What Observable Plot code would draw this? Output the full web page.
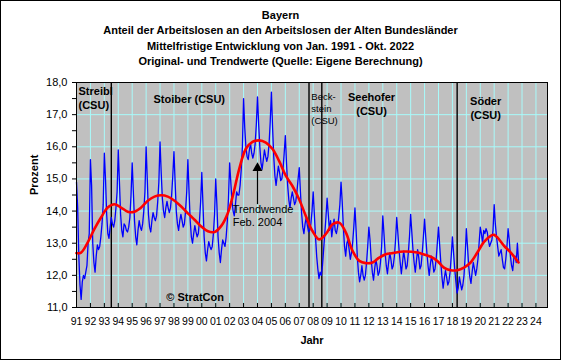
<!DOCTYPE html>
<html><head><meta charset="utf-8">
<script src="https://cdn.jsdelivr.net/npm/d3@7"></script>
<script src="https://cdn.jsdelivr.net/npm/@observablehq/plot@0.6"></script>
<style>
body{margin:0;background:#fff;}
#wrap{position:relative;width:561px;height:360px;overflow:hidden;background:#fff;font-family:Arial,"Liberation Sans",sans-serif;}
#title{height:70px;box-sizing:border-box;padding-top:8px;text-align:center;font-weight:bold;font-size:11px;line-height:15.3px;color:#000;}
#border{position:absolute;left:0;top:0;width:561px;height:360px;box-sizing:border-box;border:1px solid #000;pointer-events:none;}
#chart svg{display:block;}
</style></head>
<body>
<div id="wrap"><div id="title"></div><div id="chart"></div><div id="border"></div></div>
<script>
const titleLines = [
  "Bayern",
  "Anteil der Arbeitslosen an den Arbeitslosen der Alten Bundesländer",
  "Mittelfristige Entwicklung von Jan. 1991 - Okt. 2022",
  "Original- und Trendwerte (Quelle: Eigene Berechnung)"
];

// Monthly original values (Jan..Dec)
const v1991 = [14.9, 14.1, 12.6, 11.7, 11.25, 11.8, 12.0, 11.9, 12.1, 12.3, 13.0, 13.3];
const v1992 = [15.6, 14.8, 13.0, 12.4, 12.1, 12.6, 12.95, 12.8, 12.9, 13.2, 13.6, 14.2];
const v1993 = [15.8, 15.0, 13.9, 13.3, 13.15, 13.5, 13.8, 13.6, 13.5, 13.7, 14.1, 14.6];
const v1994 = [15.9, 14.9, 13.9, 13.4, 13.2, 13.6, 13.55, 13.4, 13.35, 13.5, 13.8, 14.5];
const v1995 = [15.5, 14.6, 13.7, 13.2, 12.95, 13.4, 13.7, 13.5, 13.4, 13.6, 14.0, 14.6];
const v1996 = [16.0, 15.0, 13.9, 13.5, 13.35, 13.7, 13.95, 13.8, 13.7, 13.85, 14.3, 14.9];
const v1997 = [16.15, 15.2, 14.4, 14.0, 13.8, 14.1, 14.3, 14.1, 13.95, 14.1, 14.5, 15.1];
const v1998 = [15.85, 14.9, 14.0, 13.6, 13.4, 13.7, 13.9, 13.7, 13.5, 13.6, 14.0, 14.6];
const v1999 = [15.6, 14.6, 13.7, 13.2, 13.0, 13.3, 13.55, 13.35, 13.2, 13.3, 13.7, 14.3];
const v2000 = [15.2, 14.2, 13.2, 12.7, 12.45, 12.8, 13.05, 12.9, 12.8, 12.9, 13.3, 13.9];
const v2001 = [15.0, 14.2, 13.2, 12.7, 12.4, 12.8, 13.1, 13.0, 12.9, 13.2, 13.7, 14.4];
const v2002 = [15.5, 14.9, 14.3, 14.0, 13.85, 14.2, 14.6, 14.5, 14.5, 14.8, 15.3, 16.0];
const v2003 = [17.5, 16.6, 16.0, 15.7, 15.6, 15.9, 16.1, 15.8, 15.65, 15.8, 16.1, 16.7];
const v2004 = [17.55, 16.7, 16.0, 15.5, 15.3, 15.6, 15.9, 15.7, 15.55, 15.7, 16.1, 16.8];
const v2005 = [17.7, 16.6, 15.7, 15.1, 14.8, 15.1, 15.4, 15.2, 14.95, 15.0, 15.3, 15.8];
const v2006 = [16.35, 15.5, 14.8, 14.35, 14.1, 14.4, 14.6, 14.4, 14.2, 14.3, 14.6, 15.0];
const v2007 = [15.35, 14.6, 13.95, 13.5, 13.3, 13.6, 13.8, 13.55, 13.35, 13.4, 13.6, 14.0];
const v2008 = [14.6, 13.9, 13.2, 12.6, 12.2, 11.9, 12.1, 12.0, 12.3, 12.8, 13.3, 13.8];
const v2009 = [14.4, 13.9, 13.4, 13.7, 13.2, 13.5, 13.75, 13.4, 13.3, 13.5, 13.8, 14.2];
const v2010 = [14.9, 14.3, 13.5, 12.9, 12.6, 13.0, 13.1, 12.8, 12.5, 12.7, 13.0, 13.5];
const v2011 = [14.1, 13.4, 12.6, 12.1, 11.8, 12.0, 12.3, 12.0, 11.85, 12.0, 12.4, 12.9];
const v2012 = [13.5, 13.1, 12.5, 12.1, 11.85, 12.2, 12.5, 12.3, 12.0, 12.1, 12.4, 12.9];
const v2013 = [13.85, 13.3, 12.7, 12.3, 12.05, 12.4, 12.7, 12.5, 12.2, 12.3, 12.6, 13.1];
const v2014 = [13.8, 13.3, 12.8, 12.4, 12.05, 12.4, 12.75, 12.5, 12.2, 12.3, 12.7, 13.2];
const v2015 = [13.9, 13.35, 12.8, 12.4, 12.1, 12.45, 12.8, 12.55, 12.2, 12.3, 12.7, 13.2];
const v2016 = [13.75, 13.2, 12.7, 12.3, 12.0, 12.35, 12.6, 12.4, 12.1, 12.2, 12.5, 13.0];
const v2017 = [13.5, 12.95, 12.4, 11.95, 11.6, 11.9, 12.15, 11.95, 11.7, 11.8, 12.1, 12.6];
const v2018 = [13.2, 12.7, 12.2, 11.8, 11.45, 11.6, 11.95, 11.75, 11.55, 11.7, 12.0, 12.6];
const v2019 = [13.45, 12.9, 12.3, 11.95, 11.75, 12.1, 12.4, 12.2, 12.0, 12.2, 12.5, 13.0];
const v2020 = [13.5, 13.3, 13.0, 13.4, 13.3, 13.45, 13.35, 13.1, 12.9, 13.0, 13.1, 13.4];
const v2021 = [14.2, 13.6, 13.2, 12.9, 12.6, 12.7, 12.8, 12.5, 12.25, 12.2, 12.5, 12.9];
const v2022 = [13.45, 13.1, 12.6, 12.3, 12.15, 12.55, 12.6, 12.4, 13.0, 12.45];

const seriesYears = [1991,1992,1993,1994,1995,1996,1997,1998,1999,2000,2001,2002,2003,2004,2005,2006,
  2007,2008,2009,2010,2011,2012,2013,2014,2015,2016,2017,2018,2019,2020,2021,2022];
const seriesValues = [v1991,v1992,v1993,v1994,v1995,v1996,v1997,v1998,v1999,v2000,v2001,v2002,v2003,v2004,
  v2005,v2006,v2007,v2008,v2009,v2010,v2011,v2012,v2013,v2014,v2015,v2016,v2017,v2018,v2019,v2020,v2021,v2022];

// Trend values (decimal year, value)
const trendTimes = [1991.0, 1991.33, 1991.8, 1992.28, 1992.76, 1993.24, 1993.72, 1994.2, 1994.68, 1995.16,
  1995.64, 1996.12, 1996.6, 1997.08, 1997.56, 1998.04, 1998.52, 1999.0, 1999.48, 1999.96, 2000.44, 2000.92,
  2001.4, 2001.88, 2002.3, 2002.68, 2003.16, 2003.64, 2004.12, 2004.6, 2005.08, 2005.55, 2006.03, 2006.51,
  2006.99, 2007.47, 2007.95, 2008.43, 2008.9, 2009.39, 2009.87, 2010.35, 2010.83, 2011.31, 2011.79, 2012.26,
  2012.74, 2013.22, 2013.65, 2014.52, 2015.48, 2015.96, 2016.44, 2016.92, 2017.39, 2017.87, 2018.35, 2018.83,
  2019.31, 2019.79, 2020.27, 2020.75, 2020.99, 2021.23, 2021.71, 2022.19, 2022.75];
const trendValues = [12.69, 12.71, 13.02, 13.44, 13.8, 14.11, 14.21, 14.11, 13.98, 13.98,
  14.11, 14.32, 14.45, 14.49, 14.45, 14.32, 14.14, 13.93, 13.73, 13.52, 13.37, 13.35,
  13.54, 13.95, 14.6, 15.3, 15.93, 16.15, 16.2, 16.13, 15.93, 15.56, 15.1, 14.78,
  14.37, 13.85, 13.38, 13.12, 13.28, 13.59, 13.64, 13.33, 12.76, 12.45, 12.38, 12.4,
  12.55, 12.66, 12.69, 12.74, 12.71, 12.65, 12.58, 12.45, 12.24, 12.16, 12.16, 12.24,
  12.4, 12.71, 13.04, 13.23, 13.26, 13.18, 12.92, 12.71, 12.4];

// Changes of Minister-President (decimal year)
const govChanges = [1993.5, 2007.7, 2008.62, 2018.34];

const xTickYears = d3.range(1991, 2025);
const yMajor = [11, 12, 13, 14, 15, 16, 17, 18];
const yMinor = [11, 11.5, 12, 12.5, 13, 13.5, 14, 14.5, 15, 15.5, 16, 16.5, 17, 17.5, 18];

document.getElementById("title").innerHTML = titleLines.map(s => `<div>${s}</div>`).join("");

const monthly = [];
seriesValues.forEach((vals, i) => vals.forEach((v, m) => monthly.push({t: seriesYears[i] + m / 12, v})));
const trend = trendTimes.map((t, i) => ({t, v: trendValues[i]}));

const grid = "#a8fafa";
const chart = Plot.plot({
  width: 561, height: 290,
  marginLeft: 76, marginRight: 14, marginTop: 12, marginBottom: 53,
  style: {fontFamily: "Arial, 'Liberation Sans', sans-serif", fontSize: "11px", background: "transparent", color: "black", overflow: "visible"},
  x: {domain: [1991, 2024.83]},
  y: {domain: [11, 18]},
  marks: [
    Plot.frame({fill: "#c0c0c0"}),
    Plot.ruleX(xTickYears, {stroke: grid, strokeWidth: 1}),
    Plot.ruleY(yMajor, {stroke: grid, strokeWidth: 1}),
    Plot.ruleX(govChanges, {stroke: "black", strokeWidth: 1.4}),
    Plot.line(monthly, {x: "t", y: "v", stroke: "#0000ff", strokeWidth: 1.3}),
    Plot.line(trend, {x: "t", y: "v", stroke: "#ff0000", strokeWidth: 2.6, curve: "catmull-rom"}),
    Plot.text(["Streibl\n(CSU)"], {frameAnchor: "top-left", dx: 2, dy: 2, lineAnchor: "top", textAnchor: "start", fontWeight: "bold", lineHeight: 1.3}),
    Plot.text(["Stoiber (CSU)"], {x: () => 1999.1, y: () => 17.47, fontWeight: "bold"}),
    Plot.text(["Beck-\nstein\n(CSU)"], {x: () => 2007.87, y: () => 17.19, textAnchor: "start", fontSize: 9.5, lineHeight: 1.25}),
    Plot.text(["Seehofer\n(CSU)"], {x: () => 2012.19, y: () => 17.36, fontWeight: "bold", lineHeight: 1.3}),
    Plot.text(["Söder\n(CSU)"], {x: () => 2020.39, y: () => 17.22, fontWeight: "bold", lineHeight: 1.3}),
    Plot.text(["© StratCon"], {x: () => 1999.52, y: () => 11.31, fontWeight: "bold"}),
    Plot.ruleX([2004.0], {y1: 14.2, y2: 15.4, stroke: "black", strokeWidth: 1.2}),
    Plot.dot([2004.0], {x: d => d, y: () => 15.34, symbol: "triangle", r: 3.7, fill: "black", stroke: "none"}),
    Plot.text(["Trendwende\nFeb. 2004"], {x: () => 2002.22, y: () => 13.86, textAnchor: "start", lineHeight: 1.2}),
    Plot.frame({stroke: "black"}),
    Plot.ruleX(xTickYears, {y1: 11, y2: 11.125, stroke: "black"}),
    Plot.axisX({ticks: xTickYears, tickSize: 0, tickPadding: 10, tickFormat: d => String(d).slice(2), fontSize: 10.5, label: null}),
    Plot.axisY({ticks: yMinor, tickSize: 4, tickFormat: () => "", label: null}),
    Plot.axisY({ticks: yMajor, tickSize: 0, tickPadding: 9, tickFormat: d => d.toFixed(1).replace(".", ","), label: null}),
    Plot.text(["Prozent"], {frameAnchor: "left", dx: -42, rotate: -90, fontWeight: "bold"}),
    Plot.text(["Jahr"], {frameAnchor: "bottom", dy: 36, fontWeight: "bold"})
  ]
});
document.getElementById("chart").appendChild(chart);
</script>
</body></html>
